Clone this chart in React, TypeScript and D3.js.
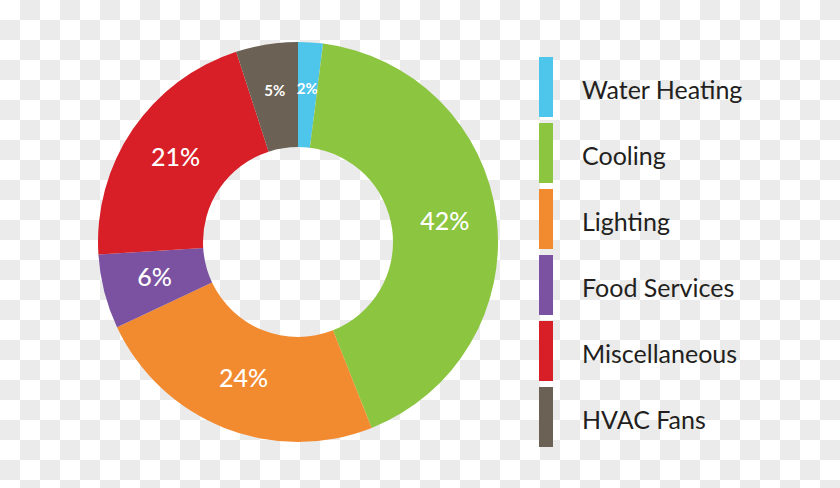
import { useEffect, useRef } from 'react';
import * as d3 from 'd3';

const categories = ['Water Heating', 'Cooling', 'Lighting', 'Food Services', 'Miscellaneous', 'HVAC Fans'];
const shares = [2, 42, 24, 6, 21, 5];
const colors = ['#4ec5ea', '#8cc540', '#f28a30', '#7a52a1', '#d81f27', '#6b6154'];

const App = () => {
  const svgRef = useRef<SVGSVGElement | null>(null);

  const width = 840;
  const height = 488;
  const cx = 298;
  const cy = 242;
  const outerR = 200;
  const innerR = 95;

  useEffect(() => {
    const svgElement = svgRef.current;
    if (!svgElement) return;

    const svg = d3.select(svgElement);
    svg.selectAll('*').remove();

    // transparent-background checkerboard
    const pattern = svg.append('defs').append('pattern')
      .attr('id', 'checker')
      .attr('width', 40)
      .attr('height', 40)
      .attr('patternUnits', 'userSpaceOnUse');
    pattern.append('rect').attr('width', 40).attr('height', 40).attr('fill', '#ffffff');
    pattern.append('rect').attr('x', 20).attr('width', 20).attr('height', 20).attr('fill', '#ebebeb');
    pattern.append('rect').attr('y', 20).attr('width', 20).attr('height', 20).attr('fill', '#ebebeb');

    svg.append('rect')
      .attr('width', width)
      .attr('height', height)
      .attr('fill', 'url(#checker)');

    const data = categories.map((name, i) => ({ name, value: shares[i], color: colors[i] }));

    const pie = d3.pie<{ name: string, value: number, color: string }>()
      .value(d => d.value)
      .sort(null);

    const arcs = pie(data);

    const arc = d3.arc<d3.PieArcDatum<{ name: string, value: number, color: string }>>()
      .innerRadius(innerR)
      .outerRadius(outerR);

    const labelArc = d3.arc<d3.PieArcDatum<{ name: string, value: number, color: string }>>()
      .innerRadius(148)
      .outerRadius(148);

    const g = svg.append('g').attr('transform', `translate(${cx},${cy})`);

    g.selectAll('path')
      .data(arcs)
      .join('path')
      .attr('d', arc)
      .attr('fill', d => d.data.color);

    g.selectAll('text')
      .data(arcs)
      .join('text')
      .attr('transform', d => {
        const [x, y] = labelArc.centroid(d);
        return `translate(${x},${y - (d.data.value <= 5 ? 6 : 3)})`;
      })
      .attr('text-anchor', 'middle')
      .attr('dominant-baseline', 'central')
      .attr('fill', '#ffffff')
      .attr('font-family', 'Lato, sans-serif')
      .attr('font-weight', d => d.data.value <= 5 ? 700 : 500)
      .attr('font-size', d => d.data.value <= 5 ? 15 : 25)
      .text(d => `${d.data.value}%`);

    // legend
    const y = d3.scaleBand<string>()
      .domain(categories)
      .range([57, 447])
      .paddingInner(0.0909);

    const legend = svg.append('g');

    legend.selectAll('rect')
      .data(data)
      .join('rect')
      .attr('x', 539)
      .attr('y', d => y(d.name) ?? 0)
      .attr('width', 14)
      .attr('height', y.bandwidth())
      .attr('fill', d => d.color);

    legend.selectAll('text')
      .data(data)
      .join('text')
      .attr('x', 582)
      .attr('y', d => (y(d.name) ?? 0) + y.bandwidth() / 2 + 12)
      .attr('fill', '#231f20')
      .attr('font-family', 'Lato, sans-serif')
      .attr('font-size', 25)
      .text(d => d.name);
  }, []);

  return (
    <svg
      ref={svgRef}
      width={width}
      height={height}
      style={{ position: 'absolute', top: 0, left: 0, display: 'block' }}
    />
  );
};

export default App;
